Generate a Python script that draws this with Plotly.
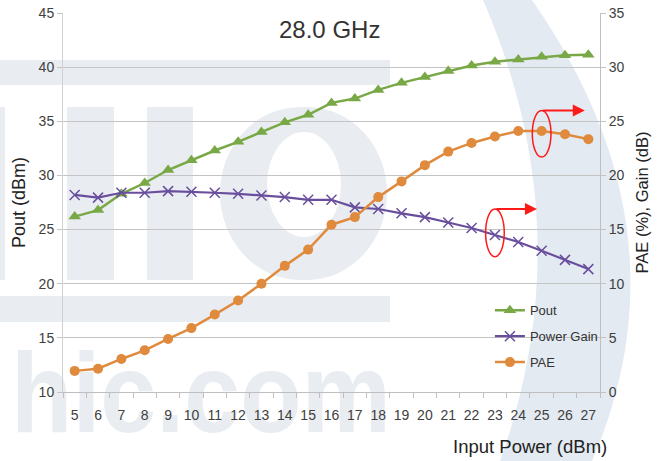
import base64
import plotly.graph_objects as go

# data (28.0 GHz PA sweep)
input_power = list(range(5, 28))
pout = [26.2, 26.8, 28.3, 29.3, 30.5, 31.4, 32.3, 33.1, 34.0, 34.9, 35.6, 36.7,
        37.1, 37.9, 38.55, 39.1, 39.65, 40.15, 40.5, 40.7, 40.95, 41.1, 41.15]
gain = [18.2, 17.95, 18.4, 18.4, 18.55, 18.5, 18.4, 18.3, 18.15, 18.0, 17.75, 17.75,
        17.05, 16.9, 16.5, 16.15, 15.65, 15.15, 14.5, 13.85, 13.05, 12.2, 11.35]
pae = [1.95, 2.15, 3.05, 3.85, 4.9, 5.9, 7.15, 8.45, 10.0, 11.65, 13.15, 15.45,
       16.15, 18.0, 19.45, 20.95, 22.2, 23.0, 23.6, 24.1, 24.1, 23.8, 23.35]
left_ticks = [10, 15, 20, 25, 30, 35, 40, 45]
right_ticks = [0, 5, 10, 15, 20, 25, 30, 35]

W, H = 666, 461
L, R, T, B = 63, 66, 13, 69
PW, PH = W - L - R, H - T - B

GREEN = '#79a847'
PURPLE = '#6a4e9e'
ORANGE = '#e08a3e'
TICKFONT = dict(family='Liberation Sans, Arial, sans-serif', size=14, color='#404040')

# faint background watermark, drawn as one svg under the plot
wm = '#e9edf1'
svg = f'''<svg xmlns="http://www.w3.org/2000/svg" width="{W}" height="{H}" viewBox="0 0 {W} {H}">
<path d="M483,0 Q583,230 500,461 L592,461 Q692,230 532,0 Z" fill="#e3eaf1"/>
<rect x="0" y="60" width="390" height="25" fill="{wm}"/>
<rect x="0" y="296" width="390" height="26" fill="{wm}"/>
<rect x="0" y="107" width="5" height="173" fill="{wm}"/>
<rect x="67" y="107" width="47" height="173" fill="{wm}"/>
<rect x="147" y="107" width="46" height="173" fill="{wm}"/>
<path fill-rule="evenodd" fill="{wm}" d="M300,107 L307,107 A80,86 0 0 1 387,193 A80,87 0 0 1 307,280 L300,280 A80,87 0 0 1 220,193 A80,86 0 0 1 300,107 Z
 M304,132 A37,52 0 0 0 267,184 A37,53 0 0 0 304,237 A37,53 0 0 0 341,184 A37,52 0 0 0 304,132 Z"/>
<text x="11" y="432" font-family="Liberation Sans, Arial, sans-serif" font-weight="bold" font-size="114"
 textLength="380" lengthAdjust="spacingAndGlyphs" fill="{wm}">hic.com</text>
</svg>'''
svg_uri = 'data:image/svg+xml;base64,' + base64.b64encode(svg.encode()).decode()

fig = go.Figure()

fig.add_trace(go.Scatter(x=input_power, y=pout, name='Pout', mode='lines+markers',
                         line=dict(color=GREEN, width=2.5),
                         marker=dict(symbol='triangle-up', size=11, color=GREEN),
                         legendgroup='a'))
fig.add_trace(go.Scatter(x=input_power, y=gain, name='Power Gain', mode='lines+markers',
                         yaxis='y2', line=dict(color=PURPLE, width=2.2),
                         marker=dict(symbol='x-thin-open', size=10,
                                     line=dict(color=PURPLE, width=1.5)),
                         legendgroup='b'))
fig.add_trace(go.Scatter(x=input_power, y=pae, name='PAE', mode='lines+markers',
                         yaxis='y2', line=dict(color=ORANGE, width=2.5),
                         marker=dict(symbol='circle', size=10, color=ORANGE),
                         legendgroup='c'))

fig.update_layout(
    width=W, height=H,
    margin=dict(l=L, r=R, t=T, b=B, autoexpand=False),
    plot_bgcolor='white', paper_bgcolor='white',
    font=dict(family='Liberation Sans, Arial, sans-serif', color='#333333'),
    showlegend=True,
    legend=dict(x=0.795, y=0.255, xanchor='left', yanchor='top',
                bgcolor='rgba(0,0,0,0)', itemwidth=30,
                traceorder='grouped', tracegroupgap=6,
                font=dict(size=13, color='#333333')),
    xaxis=dict(range=[4.5, 27.5], tickvals=input_power, showgrid=False,
               showline=True, linecolor='#bfbfbf', linewidth=1, ticks='',
               tickfont=TICKFONT, ticklabelstandoff=10, zeroline=False,
               minor=dict(tick0=4.5, dtick=1, ticks='outside', ticklen=5,
                          tickcolor='#bfbfbf', showgrid=False)),
    yaxis=dict(range=[10, 45], tickvals=left_ticks, showgrid=True,
               gridcolor='#c4c4c4', gridwidth=1, showline=True,
               linecolor='#d0d0d0', ticks='outside', ticklen=5, tickcolor='#c4c4c4',
               tickfont=TICKFONT, zeroline=False,
               title=dict(text='Pout (dBm)', standoff=8,
                          font=dict(size=18, color='#222222'))),
    yaxis2=dict(range=[0, 35], tickvals=right_ticks, overlaying='y', side='right',
                showgrid=False, showline=True, linecolor='#bfbfbf',
                ticks='outside', ticklen=5, tickcolor='#c4c4c4',
                tickfont=TICKFONT, zeroline=False,
                title=dict(text='PAE (%), Gain (dB)', standoff=12,
                           font=dict(size=16.5, color='#222222'))),
    images=[dict(source=svg_uri, xref='paper', yref='paper',
                 x=-L / PW, y=1 + T / PH, sizex=W / PW, sizey=H / PH,
                 xanchor='left', yanchor='top', sizing='stretch', layer='below')],
)

# title and x axis label
fig.add_annotation(text='28.0 GHz', xref='paper', yref='paper', x=0.497, y=(PH + T - 30) / PH,
                   xanchor='center', yanchor='middle', showarrow=False,
                   font=dict(size=24, color='#333333'))
fig.add_annotation(text='Input Power (dBm)', xref='paper', yref='paper',
                   x=(609 - L) / PW, y=(PH + T - 446) / PH, xanchor='right', yanchor='middle',
                   showarrow=False, font=dict(size=18.5, color='#222222'))

# red markers: ellipses with arrows pointing to the right axis
for xc, y_lo, y_hi, x_tip in [(25, 21.7, 26.0, 26.85), (23, 12.5, 16.9, 24.8)]:
    fig.add_shape(type='circle', xref='x', yref='y2',
                  x0=xc - 0.4, x1=xc + 0.4, y0=y_lo, y1=y_hi,
                  line=dict(color='#ff1a1a', width=1.5))
    fig.add_annotation(x=x_tip, y=y_hi, ax=xc, ay=y_hi, xref='x', yref='y2',
                       axref='x', ayref='y2', text='', showarrow=True,
                       arrowhead=2, arrowsize=1.2, arrowwidth=2, arrowcolor='#ff1a1a')

fig.write_html("out.html", config={'displayModeBar': False},
               post_script="document.body.style.margin='0';document.body.style.overflow='hidden';")
